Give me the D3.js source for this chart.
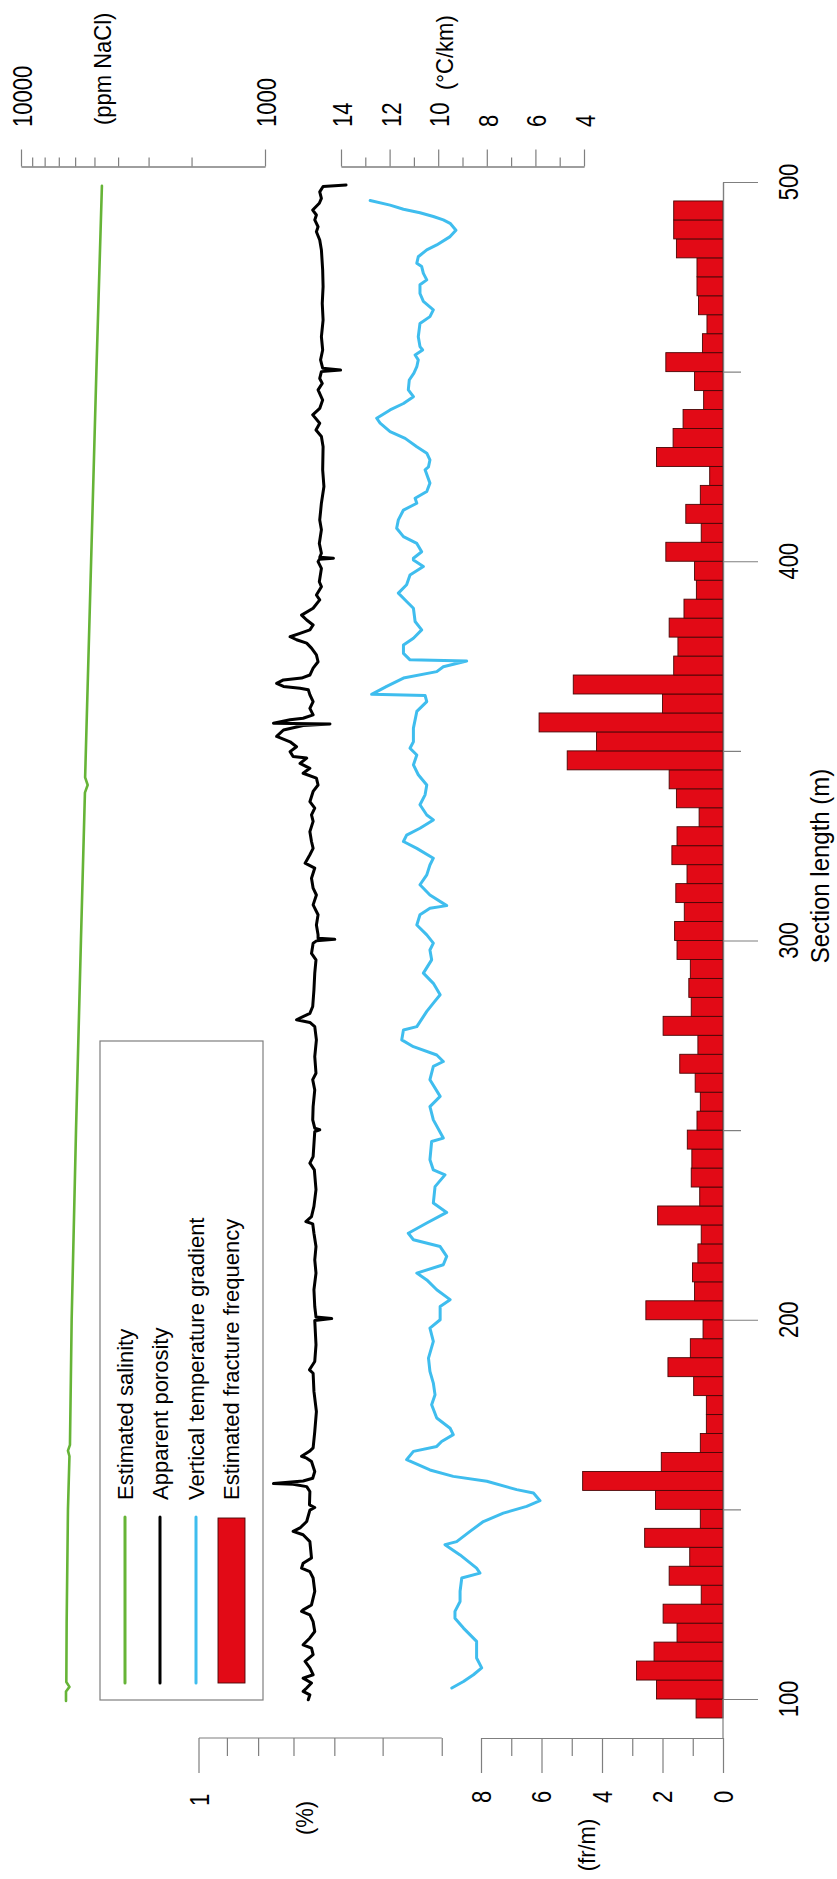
<!DOCTYPE html>
<html>
<head>
<meta charset="utf-8">
<script src="https://cdn.jsdelivr.net/npm/d3@7"></script>
<style>
  body { margin: 0; background: #fff; }
  svg { display: block; }
  text { font-family: "Liberation Sans", Arial, Helvetica, sans-serif; fill: #000; }
</style>
</head>
<body>
<svg id="chart" width="837" height="1879"></svg>
<script>
// ---- Estimated fracture frequency (fr/m), 5 m bins (bin start, m) ----
const fracBinStart = [95,100,105,110,115,120,125,130,135,140,145,150,155,160,165,170,175,180,185,190,
  195,200,205,210,215,220,225,230,235,240,245,250,255,260,265,270,275,280,285,290,
  295,300,305,310,315,320,325,330,335,340,345,350,355,360,365,370,375,380,385,390,
  395,400,405,410,415,420,425,430,435,440,445,450,455,460,465,470,475,480,485,490];
const fracFreq = [0.89,2.2,2.86,2.28,1.52,1.98,0.72,1.78,1.1,2.59,0.75,2.23,4.64,2.04,0.75,0.55,0.55,0.97,1.82,1.08,
  0.66,2.55,0.94,1.01,0.83,0.72,2.16,0.77,1.05,1.03,1.18,0.86,0.75,0.92,1.43,0.83,1.98,1.05,1.13,1.08,
  1.52,1.6,1.28,1.56,1.19,1.69,1.52,0.79,1.54,1.78,5.15,4.18,6.08,2.0,4.95,1.63,1.49,1.78,1.29,0.88,
  0.94,1.89,0.72,1.23,0.75,0.44,2.2,1.65,1.32,0.64,0.94,1.89,0.68,0.53,0.81,0.86,0.86,1.54,1.63,1.63];

// ---- Apparent porosity (%) ----
const porDepth = [99.8,101.1,102.0,102.9,104.2,105.5,106.4,108.2,109.9,111.7,113.4,114.3,116.1,117.8,120.4,122.2,123.1,123.5,124.8,128.4,
  131.9,133.6,134.5,135.8,137.2,141.5,143.3,144.2,145.1,146.8,149.8,150.5,151.2,154.7,156.0,156.6,156.8,157.5,158.2,160.0,
  162.6,163.5,164.0,165.3,166.2,170.5,175.8,181.1,185.9,186.8,189.0,193.4,199.8,200.3,200.7,203.5,207.9,212.3,215.8,219.3,
  222.8,225.3,225.9,227.2,229.9,234.3,239.5,241.3,243.0,249.6,250.1,250.5,252.7,256.2,260.6,263.3,265.0,269.4,273.8,277.3,
  278.4,279.1,280.8,282.6,287.0,291.4,294.9,296.6,299.3,299.9,300.3,300.6,301.5,304.1,306.8,309.4,312.0,313.8,316.4,319.1,
  320.4,322.6,324.3,326.1,328.7,331.4,333.1,334.9,336.6,339.3,341.0,342.8,344.1,345.4,346.7,348.1,348.5,349.8,351.1,352.4,
  353.8,355.5,356.7,357.1,357.3,358.2,358.6,359.5,361.2,363.0,364.8,366.1,366.5,367.0,367.8,368.7,369.2,370.0,371.8,373.5,
  375.3,377.1,378.4,379.3,380.1,381.0,381.9,383.2,384.5,385.8,387.6,389.8,391.1,393.3,394.6,398.1,399.9,400.5,400.8,401.05,
  402.1,404.7,408.3,410.9,415.3,419.7,424.1,430.2,432.9,434.6,436.4,438.6,440.3,442.5,445.2,446.9,448.2,450.0,450.4,450.9,
  453.1,455.7,459.2,463.6,468.0,472.4,476.8,482.1,484.7,486.9,488.2,490.0,491.3,492.6,494.4,495.7,497.4,498.8,499.2];
const porValue = [0.662,0.658,0.675,0.666,0.654,0.675,0.650,0.658,0.670,0.650,0.654,0.675,0.658,0.646,0.650,0.658,0.679,0.675,0.654,0.646,
  0.650,0.658,0.679,0.675,0.654,0.658,0.675,0.701,0.683,0.666,0.658,0.646,0.659,0.658,0.666,0.701,0.755,0.675,0.651,0.646,
  0.654,0.666,0.679,0.659,0.650,0.646,0.642,0.648,0.650,0.659,0.646,0.643,0.646,0.606,0.643,0.646,0.648,0.643,0.646,0.643,
  0.648,0.651,0.668,0.654,0.648,0.643,0.647,0.658,0.650,0.646,0.634,0.646,0.651,0.650,0.646,0.651,0.643,0.646,0.642,0.646,
  0.658,0.692,0.658,0.651,0.648,0.646,0.643,0.654,0.650,0.642,0.599,0.638,0.638,0.642,0.638,0.650,0.642,0.650,0.654,0.646,
  0.670,0.658,0.650,0.654,0.658,0.650,0.654,0.646,0.658,0.650,0.638,0.642,0.675,0.658,0.683,0.666,0.701,0.709,0.692,0.709,
  0.746,0.727,0.675,0.610,0.755,0.709,0.675,0.650,0.658,0.650,0.658,0.662,0.683,0.727,0.746,0.727,0.679,0.658,0.650,0.638,
  0.642,0.654,0.666,0.692,0.709,0.683,0.658,0.650,0.666,0.679,0.650,0.634,0.642,0.630,0.635,0.630,0.638,0.635,0.602,0.634,
  0.630,0.635,0.630,0.634,0.630,0.624,0.627,0.626,0.630,0.643,0.634,0.651,0.634,0.627,0.638,0.628,0.634,0.630,0.586,0.627,
  0.632,0.627,0.630,0.626,0.628,0.626,0.627,0.630,0.634,0.642,0.638,0.646,0.642,0.651,0.635,0.630,0.634,0.626,0.574];

// ---- Vertical temperature gradient (°C/km) ----
const tgDepth = [102.9,104.6,106.4,108.2,110.8,115.2,118.7,121.3,123.1,125.7,128.4,131.9,133.2,134.5,138.0,140.7,141.5,144.2,146.8,149.0,
  150.8,152.3,154.3,155.2,157.4,158.7,160.4,163.1,165.3,166.6,167.9,169.7,171.4,174.1,177.6,180.2,183.3,186.4,189.9,194.3,
  197.8,200.0,203.5,205.3,207.9,210.5,212.3,214.5,216.7,219.3,221.1,222.8,225.5,228.3,230.8,235.1,238.2,239.5,242.2,247.0,
  247.9,252.7,256.2,258.9,263.3,266.8,268.1,269.8,272.0,273.8,276.4,277.3,281.3,283.5,285.7,288.7,291.4,294.9,297.5,299.3,
  301.5,304.1,306.8,308.5,309.2,312.0,314.7,317.3,319.9,321.7,324.3,326.1,327.8,329.6,331.8,333.1,335.8,338.4,341.0,343.7,
  346.3,348.9,350.7,352.4,356.0,360.4,363.0,364.6,364.9,367.0,369.2,370.9,372.2,373.7,374.0,375.7,377.9,379.7,381.9,384.1,
  387.6,389.4,391.6,393.8,396.4,398.6,400.3,400.8,402.5,404.7,406.5,408.7,410.9,413.5,415.3,416.6,418.4,420.6,424.1,424.9,
  426.7,428.5,430.2,432.4,434.2,436.4,437.7,439.9,441.6,443.4,445.2,447.8,449.6,451.3,453.1,454.4,455.7,456.6,459.2,462.7,
  464.5,466.3,468.5,470.6,472.9,474.2,475.9,477.7,478.6,480.3,482.1,483.4,485.6,487.3,489.1,490.0,490.9,491.9,492.8,493.9,495.1];
const tgValue = [9.44,8.96,8.55,8.21,8.42,8.42,8.96,9.31,9.31,9.10,9.10,9.03,8.28,8.42,9.10,9.72,9.24,8.69,8.14,7.32,
  6.36,5.81,6.08,6.77,8.00,9.38,10.34,11.30,11.02,10.06,9.86,9.38,9.51,10.06,10.27,10.13,10.20,10.34,10.40,10.20,
  10.34,9.92,9.92,9.51,10.06,10.47,10.88,9.79,9.65,9.92,11.02,11.23,10.47,9.65,10.20,10.13,9.72,10.20,10.34,10.27,
  9.79,10.20,10.34,9.92,10.34,10.20,9.79,10.06,11.02,11.50,11.43,10.88,10.47,10.20,9.92,10.20,10.61,10.27,10.34,10.20,
  10.47,10.88,10.75,10.34,9.65,10.34,10.75,10.47,10.34,10.20,10.88,11.43,11.30,10.75,10.20,10.47,10.75,10.54,10.47,10.82,
  11.02,10.88,11.16,11.02,11.02,10.88,10.47,10.54,12.74,12.12,11.43,10.06,9.79,8.83,11.16,11.43,11.43,11.02,10.68,10.95,
  11.02,11.30,11.64,11.30,11.16,10.61,11.02,11.02,10.68,10.88,11.43,11.71,11.64,11.43,10.88,10.95,10.47,10.34,10.54,10.40,
  10.34,10.47,10.88,11.36,11.98,12.39,12.53,11.98,11.43,11.02,11.23,11.19,11.00,10.88,10.82,10.95,10.64,10.75,10.82,10.75,
  10.34,10.20,10.61,10.75,10.75,10.47,10.61,10.68,10.88,10.82,10.47,10.06,9.51,9.27,9.51,9.79,10.20,10.75,11.43,11.98,12.80];

// ---- Estimated salinity (ppm NaCl) ----
const salDepth = [99.5,102,103.2,104.5,120,150,164,165.5,167,200,250,300,339,341,343,400,450,499];
const salValue = [6540,6540,6330,6520,6500,6420,6330,6420,6300,6200,5950,5680,5470,5330,5460,5160,4910,4660];

// ---- Axis ticks and labels ----
const secMajor = [100,200,300,400,500];
const secMinor = [150,250,350,450];
const fracTicks = [0,1,2,3,4,5,6,7,8];
const fracLabels = [0,2,4,6,8];
const porTicks = [1,0.9,0.8,0.7,0.6,0.5,0.4];
const salTicks = [10000,9000,8000,7000,6000,5000,4000,3000,2000,1000];
const salLabels = [10000,1000];
const tgTicks = [14,13,12,11,10,9,8,7,6,5,4];
const tgLabels = [14,12,10,8,6,4];
const legendItems = ["Estimated salinity","Apparent porosity","Vertical temperature gradient","Estimated fracture frequency"];

// ---- Scales ----
const ySec = d3.scaleLinear().domain([100, 500]).range([1699, 182]);
const xFrac = d3.scaleLinear().domain([0, 8]).range([723, 481]);
const xPor = d3.scaleLog().domain([1, 0.1]).range([199, 809]);
const xSal = d3.scaleLog().domain([10000, 1000]).range([21, 265]);
const xTg = d3.scaleLinear().domain([14, 4]).range([341, 584]);

const AX = "#7f7f7f";
const GREEN = "#66b437", BLUE = "#3fbdee", RED = "#e20a16";
const svg = d3.select("#chart");

// rotated (bottom-to-top) text
function vtext(x, y, str, opt = {}) {
  const { size = 22, stretch = 1, anchor = "middle", dy = "0.36em" } = opt;
  return svg.append("text")
    .attr("transform", `translate(${x},${y}) rotate(-90) scale(1,${stretch})`)
    .attr("text-anchor", anchor).attr("dy", dy).attr("font-size", size).text(str);
}

function styleAxis(g) {
  g.select(".domain").attr("stroke", AX).attr("stroke-width", 1.2);
  g.selectAll(".tick line").attr("stroke", AX).attr("stroke-width", 1.2);
  g.selectAll(".tick text").remove();
}

// ---- Fracture bars ----
svg.append("g").selectAll("rect").data(fracBinStart).join("rect")
  .attr("x", (d, i) => xFrac(fracFreq[i]))
  .attr("y", d => ySec(d + 5))
  .attr("width", (d, i) => xFrac(0) - xFrac(fracFreq[i]))
  .attr("height", d => ySec(d) - ySec(d + 5))
  .attr("fill", RED).attr("stroke", "#4a0606").attr("stroke-width", 0.9);

// ---- Section length axis (right) ----
const secAxisG = svg.append("g").attr("transform", "translate(723,0)");
secAxisG.call(d3.axisRight(ySec).tickValues(secMajor).tickSize(35).tickSizeOuter(0).tickFormat(""));
styleAxis(secAxisG);
const secMinorG = svg.append("g").attr("transform", "translate(723,0)");
secMinorG.call(d3.axisRight(ySec).tickValues(secMinor).tickSize(18).tickSizeOuter(0).tickFormat(""));
styleAxis(secMinorG);
svg.append("line").attr("x1", 723).attr("x2", 723).attr("y1", ySec(100)).attr("y2", 1738)
  .attr("stroke", AX).attr("stroke-width", 1.2);
secMajor.forEach(v => vtext(788, ySec(v), String(v), { stretch: 1.25 }));
vtext(820, 866, "Section length (m)", { size: 24, stretch: 1.08 });

// ---- Fracture frequency axis (bottom) ----
const fracAxisG = svg.append("g").attr("transform", "translate(0,1738)");
fracAxisG.call(d3.axisBottom(xFrac).tickValues(fracLabels).tickSize(35).tickSizeOuter(0).tickFormat(""));
styleAxis(fracAxisG);
const fracMinorG = svg.append("g").attr("transform", "translate(0,1738)");
fracMinorG.call(d3.axisBottom(xFrac).tickValues(fracTicks.filter(t => t % 2)).tickSize(18).tickSizeOuter(0).tickFormat(""));
styleAxis(fracMinorG);
fracLabels.forEach(v => vtext(xFrac(v), 1797, String(v), { stretch: 1.25 }));
vtext(587, 1845, "(fr/m)", { stretch: 1.08, dy: "0.33em" });

// ---- Porosity axis (bottom, log) ----
const porAxisG = svg.append("g").attr("transform", "translate(0,1738)");
porAxisG.call(d3.axisBottom(xPor).tickValues(porTicks.slice(1)).tickSize(18).tickSizeOuter(0).tickFormat(""));
styleAxis(porAxisG);
porAxisG.select(".domain").attr("d", `M${xPor(1)},0H${xPor(0.4)}`);
svg.append("line").attr("x1", xPor(1)).attr("x2", xPor(1)).attr("y1", 1738).attr("y2", 1773)
  .attr("stroke", AX).attr("stroke-width", 1.2);
vtext(xPor(1), 1800, "1", { stretch: 1.25 });
vtext(305, 1818, "(%)", { stretch: 1.08, dy: "0.33em" });

// ---- Salinity axis (top, log) ----
const salAxisG = svg.append("g").attr("transform", "translate(0,166.5)");
salAxisG.call(d3.axisTop(xSal).tickValues(salTicks.filter(t => !salLabels.includes(t))).tickSize(9).tickSizeOuter(0).tickFormat(""));
styleAxis(salAxisG);
const salMajorG = svg.append("g").attr("transform", "translate(0,166.5)");
salMajorG.call(d3.axisTop(xSal).tickValues(salLabels).tickSize(17).tickSizeOuter(0).tickFormat(""));
styleAxis(salMajorG);
salLabels.forEach(v => vtext(xSal(v) + 1.5, 127, String(v), { anchor: "start", stretch: 1.25 }));
vtext(103.5, 125, "(ppm NaCl)", { anchor: "start", stretch: 1.08, dy: "0.33em" });

// ---- Temperature gradient axis (top) ----
const tgAxisG = svg.append("g").attr("transform", "translate(0,166.5)");
tgAxisG.call(d3.axisTop(xTg).tickValues(tgTicks.filter(t => t % 2)).tickSize(9).tickSizeOuter(0).tickFormat(""));
styleAxis(tgAxisG);
const tgMajorG = svg.append("g").attr("transform", "translate(0,166.5)");
tgMajorG.call(d3.axisTop(xTg).tickValues(tgLabels).tickSize(17).tickSizeOuter(0).tickFormat(""));
styleAxis(tgMajorG);
tgLabels.forEach(v => vtext(xTg(v) + 1, 127, String(v), { anchor: "start", stretch: 1.25 }));
vtext(445, 90, "(°C/km)", { anchor: "start", stretch: 1.08, dy: "0.33em" });

// ---- Curves ----
const salLine = d3.line().x(d => xSal(salValue[d])).y(d => ySec(salDepth[d]));
svg.append("path").attr("d", salLine(d3.range(salDepth.length)))
  .attr("fill", "none").attr("stroke", GREEN).attr("stroke-width", 2.6)
  .attr("stroke-linejoin", "round").attr("stroke-linecap", "round");

const porLine = d3.line().x(d => xPor(porValue[d])).y(d => ySec(porDepth[d]));
svg.append("path").attr("d", porLine(d3.range(porDepth.length)))
  .attr("fill", "none").attr("stroke", "#000").attr("stroke-width", 3)
  .attr("stroke-linejoin", "round").attr("stroke-linecap", "round");

const tgLine = d3.line().x(d => xTg(tgValue[d])).y(d => ySec(tgDepth[d]));
svg.append("path").attr("d", tgLine(d3.range(tgDepth.length)))
  .attr("fill", "none").attr("stroke", BLUE).attr("stroke-width", 3)
  .attr("stroke-linejoin", "round").attr("stroke-linecap", "round");

// ---- Legend ----
svg.append("rect").attr("x", 100).attr("y", 1041).attr("width", 163).attr("height", 659)
  .attr("fill", "#fff").attr("stroke", AX).attr("stroke-width", 1.2);
const legX = [125, 160, 196, 231.5];
const legColors = [GREEN, "#000", BLUE, RED];
legendItems.forEach((name, i) => {
  if (i < 3) {
    svg.append("line").attr("x1", legX[i]).attr("x2", legX[i]).attr("y1", 1517).attr("y2", 1683)
      .attr("stroke", legColors[i]).attr("stroke-width", 3).attr("stroke-linecap", "round");
  } else {
    svg.append("rect").attr("x", 218).attr("y", 1518).attr("width", 27).attr("height", 165)
      .attr("fill", RED).attr("stroke", "#4a0606").attr("stroke-width", 0.9);
  }
  vtext(legX[i], 1500, name, { anchor: "start" });
});
</script>
</body>
</html>
